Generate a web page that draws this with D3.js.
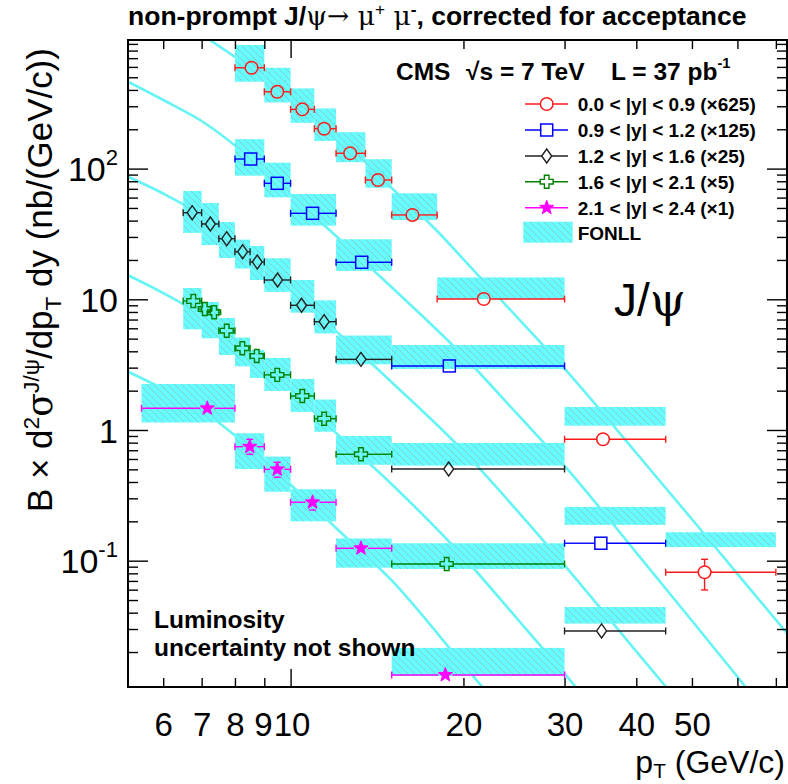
<!DOCTYPE html>
<html><head><meta charset="utf-8">
<script src="https://cdn.jsdelivr.net/npm/d3@7"></script>
<style>body{margin:0;background:#fff}</style>
</head><body>
<svg id="c" width="788" height="784"></svg>
<script>
// ---------------- DATA ----------------
const xLabelVals = [6,7,8,9,10,20,30,40,50];
const xLabelNudge = [0,0,0,-1.5,1,0,0,0,0];
const xMinorTicks = [6,7,8,9,20,30,40,50,60,70];
const xMajorTicks = [10];
const yLabelVals = [0.1,1,10,100];
const yLabelText = [["10","-1"],["1",""],["10",""],["10","2"]];

// 0.0<|y|<0.9 (x625)
const redPt   = [8.55,9.48,10.48,11.44,12.7,14.2,16.3,21.7,35.0,52.6];
const redVal  = [591,387,284,202,131,81.8,44.2,10.05,0.849,0.0815];
const redLo   = [570,373,274,195,126,78.5,42.3,9.6,0.81,0.0597];
const redHi   = [612,401,294,209,136,85.1,46.1,10.5,0.89,0.1025];
const redBinLo= [8,9,10,11,12,13.5,15,18,30,45];
const redBinHi= [9,10,11,12,13.5,15,18,30,45,70];
const redBandMin=[462,321,224,163,112,71.4,40.4,10.05,1.078,0.127];
const redBandMax=[883,591,411,289,190,118,64.7,14.7,1.50,0.165];

// 0.9<|y|<1.2 (x125)
const bluePt   = [8.52,9.48,10.92,13.3,18.9,34.7];
const blueVal  = [118.4,77.2,45.5,19.2,3.09,0.136];
const blueLo   = [114,74.5,43.9,18.5,2.97,0.126];
const blueHi   = [123,80,47.1,19.9,3.21,0.146];
const blueBinLo= [8,9,10,12,15,30];
const blueBinHi= [9,10,12,15,30,45];
const blueBandMin=[88.3,60.3,36.6,16.5,2.93,0.188];
const blueBandMax=[168,111,63.9,28.8,4.47,0.258];

// 1.2<|y|<1.6 (x25)
const blackPt   = [6.74,7.25,7.74,8.25,8.75,9.49,10.45,11.44,13.26,18.85,34.8];
const blackVal  = [46.0,37.7,29.1,23.1,19.3,14.05,9.0,6.74,3.47,0.503,0.0290];
const blackLo   = [44.2,36.2,27.9,22.2,18.5,13.5,8.65,6.47,3.33,0.480,0.0274];
const blackHi   = [47.8,39.2,30.3,24.0,20.1,14.6,9.35,7.01,3.61,0.526,0.0306];
const blackBinLo= [6.5,7,7.5,8,8.5,9,10,11,12,15,30];
const blackBinHi= [7,7.5,8,8.5,9,10,11,12,15,30,45];
const blackBandMin=[32.2,26.0,20.7,17.2,14.05,11.4,7.90,5.48,3.18,0.534,0.0330];
const blackBandMax=[67.4,54.5,39.0,28.6,25.6,20.6,14.05,9.82,5.28,0.796,0.0442];

// 1.6<|y|<2.1 (x5)
const greenPt   = [6.77,7.09,7.36,7.74,8.24,8.73,9.48,10.48,11.44,13.26,18.7];
const greenVal  = [9.70,8.43,7.95,5.75,4.22,3.68,2.64,1.82,1.22,0.652,0.0944];
const greenLo   = [9.25,8.05,7.58,5.48,4.02,3.50,2.51,1.73,1.16,0.620,0.0895];
const greenHi   = [10.15,8.81,8.32,6.02,4.42,3.86,2.77,1.91,1.28,0.684,0.0993];
const greenBinLo= [6.5,7,7.25,7.5,8,8.5,9,10,11,12,15];
const greenBinHi= [7,7.25,7.5,8,8.5,9,10,11,12,15,30];
const greenBandLo=[6.5,7,7.5,8,8.5,9,10,11,12,15];
const greenBandHi=[7,7.5,8,8.5,9,10,11,12,15,30];
const greenBandMin=[5.89,5.03,3.75,3.07,2.50,1.99,1.376,0.970,0.542,0.0864];
const greenBandMax=[12.2,9.53,7.19,5.10,4.09,3.56,2.46,1.711,0.901,0.1359];

// 2.1<|y|<2.4 (x1)
const magPt   = [7.16,8.49,9.48,10.92,13.26,18.6];
const magVal  = [1.466,0.745,0.500,0.280,0.1244,0.01336];
const magLo   = [1.30,0.652,0.435,0.2443,0.1106,0.01187];
const magHi   = [1.618,0.849,0.566,0.3166,0.138,0.01503];
const magBinLo= [5.5,8,9,10,12,15];
const magBinHi= [8,9,10,12,15,30];
const magBandMin=[1.141,0.503,0.337,0.200,0.0884,0.01312];
const magBandMax=[2.25,0.944,0.626,0.352,0.1479,0.0215];

// FONLL central curves
const curveApt = [6,7,8,9,10,11,12,13.5,15,18,20,25,30,40,50,60,75];
const curveAval= [1578,1058,714,493,347,248,178,112.3,71.1,33.3,20.2,7.02,2.944,0.667,0.2074,0.0793,0.02448];
const curveBpt = [5.2,6,7,8,9,10,12,15,20,25,30,40,50,60,75];
const curveBval= [463.9,334.9,231.3,150.2,95.9,63.04,30.5,12.35,3.683,1.280,0.5322,0.1153,0.03469,0.01294,0.00384];
const curveCpt = [5.2,6,7,8,9,10,12,15,20,25,30,40,50];
const curveCval= [87.0,64.5,43.9,28.2,17.98,11.82,5.71,2.317,0.689,0.2325,0.0922,0.02023,0.00626];
const curveDpt = [5.2,6,7,8,9,10,12,15,20,25,30,40];
const curveDval= [15.35,11.17,7.54,4.84,3.088,2.031,0.948,0.3847,0.1067,0.03456,0.01366,0.003];
const curveEpt = [5.2,6,7,8,9,10,12,15,20,25];
const curveEval= [2.803,2.060,1.415,0.9077,0.5792,0.3807,0.1779,0.07057,0.01595,0.00507];

const legendLabels = ["0.0 < |y| < 0.9 (×625)","0.9 < |y| < 1.2 (×125)","1.2 < |y| < 1.6 (×25)","1.6 < |y| < 2.1 (×5)","2.1 < |y| < 2.4 (×1)"];

// ---------------- SETUP ----------------
const L=128,R=787,T=40,B=687;
const SANS="'Liberation Sans', Arial, Helvetica, sans-serif";
const SERIF="'DejaVu Serif','Liberation Serif', serif";
const x=d3.scaleLog().domain([5.21,73.2]).range([L,R]);
const y=d3.scaleLog().domain([0.0108,964]).range([B,T]);
const svg=d3.select("#c");
svg.append("rect").attr("width",788).attr("height",784).attr("fill","#fff");
const defs=svg.append("defs");
defs.append("clipPath").attr("id","clip").append("rect").attr("x",L).attr("y",T).attr("width",R-L).attr("height",B-T);
const pat=defs.append("pattern").attr("id","hatch").attr("patternUnits","userSpaceOnUse").attr("width",7).attr("height",7);
pat.append("rect").attr("width",7).attr("height",7).attr("fill","#66ffff");
pat.append("path").attr("d","M-1,-1 L8,8 M-1,6 L1,8 M6,-1 L8,1").attr("stroke","#86c4c4").attr("stroke-width",0.9);

const series=[
 {pt:redPt,val:redVal,lo:redLo,hi:redHi,bl:redBinLo,bh:redBinHi,bandL:redBinLo,bandH:redBinHi,bmin:redBandMin,bmax:redBandMax,color:"#ff1a1a",shape:"circle"},
 {pt:bluePt,val:blueVal,lo:blueLo,hi:blueHi,bl:blueBinLo,bh:blueBinHi,bandL:blueBinLo,bandH:blueBinHi,bmin:blueBandMin,bmax:blueBandMax,color:"#0000ff",shape:"square"},
 {pt:blackPt,val:blackVal,lo:blackLo,hi:blackHi,bl:blackBinLo,bh:blackBinHi,bandL:blackBinLo,bandH:blackBinHi,bmin:blackBandMin,bmax:blackBandMax,color:"#222222",shape:"diamond"},
 {pt:greenPt,val:greenVal,lo:greenLo,hi:greenHi,bl:greenBinLo,bh:greenBinHi,bandL:greenBandLo,bandH:greenBandHi,bmin:greenBandMin,bmax:greenBandMax,color:"#008000",shape:"cross"},
 {pt:magPt,val:magVal,lo:magLo,hi:magHi,bl:magBinLo,bh:magBinHi,bandL:magBinLo,bandH:magBinHi,bmin:magBandMin,bmax:magBandMax,color:"#ff00ff",shape:"star"}
];
const curves=[[curveApt,curveAval],[curveBpt,curveBval],[curveCpt,curveCval],[curveDpt,curveDval],[curveEpt,curveEval]];

const half={circle:[6.3,6.3],square:[6,6],diamond:[5,7],cross:[6.5,6.5],star:[7,7]};
function markerPath(shape){
  if(shape==="diamond") return "M0,-7 L5,0 L0,7 L-5,0 Z";
  if(shape==="cross"){const a=2.3,l=6.5;return `M${-a},${-l} H${a} V${-a} H${l} V${a} H${a} V${l} H${-a} V${a} H${-l} V${-a} H${-a} Z`;}
  if(shape==="star"){let p=[];for(let i=0;i<10;i++){const r=i%2?3.1:7.5;const a=-Math.PI/2+i*Math.PI/5;p.push([r*Math.cos(a),r*Math.sin(a)]);}return "M"+p.map(q=>q[0].toFixed(2)+","+q[1].toFixed(2)).join("L")+"Z";}
  return null;
}
function drawMarker(g,shape,cx,cy,color){
  if(shape==="circle") g.append("circle").attr("cx",cx).attr("cy",cy).attr("r",6.3).attr("fill","none").attr("stroke",color).attr("stroke-width",1.5);
  else if(shape==="square") g.append("rect").attr("x",cx-6).attr("y",cy-6).attr("width",12).attr("height",12).attr("fill","none").attr("stroke",color).attr("stroke-width",1.5);
  else g.append("path").attr("d",markerPath(shape)).attr("transform",`translate(${cx},${cy})`)
    .attr("fill",shape==="star"?color:"none").attr("stroke",color).attr("stroke-width",shape==="star"?1:1.4);
}

const plot=svg.append("g").attr("clip-path","url(#clip)");
// FONLL curves
const line=d3.line().x(d=>x(d[0])).y(d=>y(d[1])).curve(d3.curveMonotoneX);
curves.forEach(c=>{
  plot.append("path").datum(c[0].map((p,i)=>[p,c[1][i]])).attr("d",line)
    .attr("fill","none").attr("stroke","#66f4f4").attr("stroke-width",2.6);
});
// FONLL bands
series.forEach(s=>{
  s.bandL.forEach((b,i)=>{
    plot.append("rect").attr("x",x(b)).attr("width",x(s.bandH[i])-x(b))
      .attr("y",y(s.bmax[i])).attr("height",y(s.bmin[i])-y(s.bmax[i]))
      .attr("fill","url(#hatch)");
  });
});
// Data points
series.forEach(s=>{
  const g=plot.append("g");
  const [hw,hh]=half[s.shape];
  s.pt.forEach((p,i)=>{
    const cx=x(p),cy=y(s.val[i]);
    const x0=x(s.bl[i]),x1=x(s.bh[i]);
    const st=(sel)=>sel.attr("stroke",s.color).attr("stroke-width",1.4);
    st(g.append("line").attr("x1",x0).attr("x2",cx-hw).attr("y1",cy).attr("y2",cy));
    st(g.append("line").attr("x1",cx+hw).attr("x2",x1).attr("y1",cy).attr("y2",cy));
    st(g.append("line").attr("x1",x0).attr("x2",x0).attr("y1",cy-3.5).attr("y2",cy+3.5));
    st(g.append("line").attr("x1",x1).attr("x2",x1).attr("y1",cy-3.5).attr("y2",cy+3.5));
    const yh=y(s.hi[i]),yl=y(s.lo[i]);
    if(yh<cy-hh){st(g.append("line").attr("x1",cx).attr("x2",cx).attr("y1",yh).attr("y2",cy-hh));
      st(g.append("line").attr("x1",cx-3.5).attr("x2",cx+3.5).attr("y1",yh).attr("y2",yh));}
    if(yl>cy+hh){st(g.append("line").attr("x1",cx).attr("x2",cx).attr("y1",cy+hh).attr("y2",yl));
      st(g.append("line").attr("x1",cx-3.5).attr("x2",cx+3.5).attr("y1",yl).attr("y2",yl));}
    drawMarker(g,s.shape,cx,cy,s.color);
  });
});

// ---------------- AXES ----------------
const yMinor=y.ticks(40).filter(v=>Math.abs(Math.log10(v)-Math.round(Math.log10(v)))>1e-6);
const yMajor=y.ticks(40).filter(v=>Math.abs(Math.log10(v)-Math.round(Math.log10(v)))<1e-6);
function ax(gen,vals,size,tx,ty){
  const g=svg.append("g").attr("transform",`translate(${tx},${ty})`)
    .call(gen.tickValues(vals).tickSize(size).tickFormat(""));
  g.select(".domain").remove();
  g.selectAll("line").attr("stroke","#000").attr("stroke-width",1.4);
  return g;
}
ax(d3.axisBottom(x),xMinorTicks,-9,0,B);
ax(d3.axisBottom(x),xMajorTicks,-18,0,B);
ax(d3.axisTop(x),xMinorTicks,-9,0,T);
ax(d3.axisTop(x),xMajorTicks,-18,0,T);
ax(d3.axisLeft(y),yMinor,-10,L,0);
ax(d3.axisLeft(y),yMajor,-20,L,0);
ax(d3.axisRight(y),yMinor,-10,R,0);
ax(d3.axisRight(y),yMajor,-20,R,0);
svg.append("rect").attr("x",L).attr("y",T).attr("width",R-L).attr("height",B-T)
  .attr("fill","none").attr("stroke","#000").attr("stroke-width",2);

// x tick labels
const xl=svg.append("g").attr("transform",`translate(0,${B})`)
  .call(d3.axisBottom(x).tickValues(xLabelVals).tickSize(0).tickFormat(d=>String(d)));
xl.select(".domain").remove();
xl.selectAll("text").attr("y",49).attr("dy",0).attr("font-size",33).attr("font-family",SANS).attr("fill","#000")
  .attr("x",d=>xLabelNudge[xLabelVals.indexOf(d)]);
// y tick labels
const yl=svg.append("g").attr("transform",`translate(${L},0)`)
  .call(d3.axisLeft(y).tickValues(yLabelVals).tickSize(0).tickFormat(""));
yl.select(".domain").remove();
yl.selectAll("text").each(function(d,i){
  const t=d3.select(this).attr("x",-10).attr("dy","0.36em").attr("font-size",34).attr("font-family",SANS).attr("fill","#000").attr("text-anchor","end");
  const parts=yLabelText[yLabelVals.indexOf(d)];
  t.append("tspan").text(parts[0]);
  if(parts[1]) t.append("tspan").attr("font-size","65%").attr("dy","-0.75em").text(parts[1]);
});

// rich text helper
function rich(sel,parts,subShift){
  let shift=0;
  const sb=subShift===undefined?0.25:subShift;
  parts.forEach(p=>{
    const ts=sel.append("tspan").text(p.t);
    const target=p.sup?-0.38:(p.sub?sb:0);
    const d=target-shift;
    if(p.sup||p.sub){ts.attr("font-size","65%");if(d!==0)ts.attr("dy",(d/0.65)+"em");}
    else if(d!==0) ts.attr("dy",d+"em");
    if(p.f) ts.attr("font-family",p.f);
    if(p.w) ts.attr("font-weight",p.w);
    shift=target;
  });
}
function fit(sel,target){
  const w=sel.node().getBBox().width;
  const fs=parseFloat(sel.attr("font-size"));
  sel.attr("font-size",fs*target/w);
}

// Title
const title=svg.append("text").attr("x",128).attr("y",25).attr("font-size",24).attr("font-weight","bold").attr("font-family",SANS);
rich(title,[{t:"non-prompt J/"},{t:"ψ",f:SERIF,w:"normal"},{t:"→ ",f:SERIF,w:"normal"},{t:"μ",f:SERIF,w:"normal"},{t:"+",sup:true,w:"normal"},{t:" μ",f:SERIF,w:"normal"},{t:"-",sup:true},{t:", corrected for acceptance"}]);
fit(title,619);

// Y title
const yt=svg.append("text").attr("transform","translate(52,512) rotate(-90)").attr("font-size",36).attr("font-family",SANS);
rich(yt,[{t:"B × d"},{t:"2",sup:true},{t:"σ",f:SERIF},{t:"J/ψ",sup:true},{t:"/dp"},{t:"T",sub:true},{t:" dy (nb/(GeV/c))"}]);
fit(yt,464);

// X title
const xt=svg.append("text").attr("x",785).attr("y",773).attr("text-anchor","end").attr("font-size",32).attr("font-family",SANS);
rich(xt,[{t:"p"},{t:"T",sub:true},{t:" (GeV/c)"}],0.17);

// CMS label
const cms=svg.append("text").attr("y",80).attr("font-size",24.5).attr("font-weight","bold").attr("font-family",SANS);
cms.append("tspan").attr("x",396).text("CMS");
cms.append("tspan").attr("x",466).text("√s = 7 TeV");
cms.append("tspan").attr("x",611).text("L = 37 pb");
cms.append("tspan").attr("font-size","60%").attr("dy","-0.8em").text("-1");

// Legend
const legY=[104,130,156,181.7,207.7];
series.forEach((s,i)=>{
  const g=svg.append("g");
  g.append("line").attr("x1",525).attr("x2",568).attr("y1",legY[i]).attr("y2",legY[i]).attr("stroke",s.color).attr("stroke-width",1.4);
  if(s.shape!=="star"){
    const hw=half[s.shape][0];
    g.append("rect").attr("x",546.7-hw+0.5).attr("y",legY[i]-1.5).attr("width",2*hw-1).attr("height",3).attr("fill","#fff");
  }
  drawMarker(g,s.shape,546.7,legY[i],s.color);
  svg.append("text").attr("x",577.7).attr("y",legY[i]+7).attr("font-size",19).attr("font-weight","bold").attr("font-family",SANS).text(legendLabels[i]);
});
svg.append("rect").attr("x",523.3).attr("y",221.7).attr("width",49.4).attr("height",21).attr("fill","url(#hatch)");
svg.append("text").attr("x",577.7).attr("y",239.5).attr("font-size",19).attr("font-weight","bold").attr("font-family",SANS).text("FONLL");

// J/psi label
const jp=svg.append("text").attr("x",614).attr("y",316).attr("font-size",46).attr("font-family",SANS);
jp.append("tspan").text("J/");
jp.append("tspan").attr("font-family",SERIF).text("ψ");

// Luminosity note
const lum=svg.append("text").attr("x",154).attr("y",628).attr("font-size",24.5).attr("font-weight","bold").attr("font-family",SANS);
lum.append("tspan").attr("x",154).text("Luminosity");
lum.append("tspan").attr("x",154).attr("dy",27.5).text("uncertainty not shown");
</script>
</body></html>
